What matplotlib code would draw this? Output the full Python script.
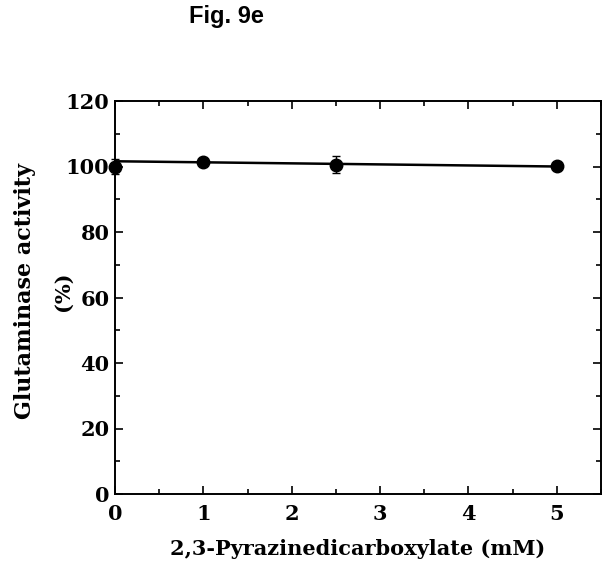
import numpy as np
import matplotlib.pyplot as plt
from matplotlib.ticker import MultipleLocator

# measured points
conc = [0, 1, 2.5, 5]
activity = [100.0, 101.5, 100.6, 100.2]
err = [2.4, 0.6, 2.5, 0.6]

# fitted straight line
fit_x = [0, 5]
fit_y = [101.6, 100.0]

x_ticks = [0, 1, 2, 3, 4, 5]
y_ticks = [0, 20, 40, 60, 80, 100, 120]

fig = plt.figure(figsize=(6.09, 5.8), dpi=100)
ax = fig.add_axes([115 / 609, 1 - 494 / 580, 486 / 609, 393 / 580])

serif = 'DejaVu Serif'

ax.plot(fit_x, fit_y, color='black', lw=1.8, zorder=2)
ax.errorbar(conc, activity, yerr=err, fmt='o', color='black', ms=9,
            elinewidth=1, capsize=3, capthick=1, zorder=3, clip_on=False)

ax.set_xlim(0, 5.5)
ax.set_ylim(0, 120)
ax.set_xticks(x_ticks)
ax.set_yticks(y_ticks)
ax.xaxis.set_minor_locator(MultipleLocator(0.5))
ax.yaxis.set_minor_locator(MultipleLocator(10))
ax.tick_params(which='both', direction='in', top=True, right=True, width=1.2)
ax.tick_params(which='major', length=6)
ax.tick_params(which='minor', length=3.5)
ax.tick_params(axis='x', pad=7)
ax.tick_params(axis='y', pad=4)
for s in ax.spines.values():
    s.set_linewidth(1.4)

for lab in ax.get_xticklabels() + ax.get_yticklabels():
    lab.set_fontfamily(serif)
    lab.set_fontweight('bold')
    lab.set_fontsize(15)

ax.set_xlabel('2,3-Pyrazinedicarboxylate (mM)', fontfamily=serif,
              fontweight='bold', fontsize=15, labelpad=11)
fig.text(25 / 609, 1 - 291 / 580, 'Glutaminase activity', rotation=90,
         ha='center', va='center', fontfamily=serif, fontweight='bold',
         fontsize=16)
fig.text(63 / 609, 1 - 291 / 580, '(%)', rotation=90,
         ha='center', va='center', fontfamily=serif, fontweight='bold',
         fontsize=15)

fig.text(226 / 609, 1 - 17 / 580, 'Fig. 9e', ha='center', va='center',
         fontfamily='Liberation Sans', fontweight='bold', fontsize=17)

fig.savefig('out.png', dpi=100)
